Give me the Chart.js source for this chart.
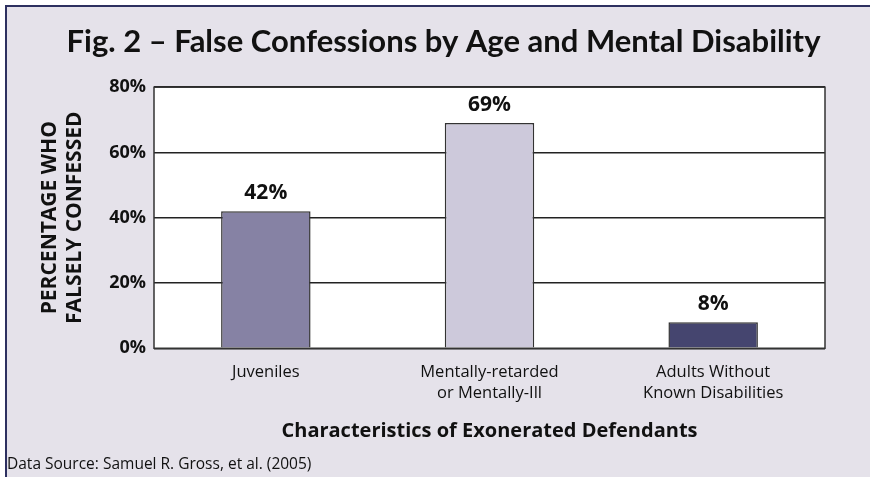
<!DOCTYPE html>
<html>
<head>
<meta charset="utf-8">
<script src="https://cdn.jsdelivr.net/npm/chart.js@4.4.1/dist/chart.umd.min.js"></script>
<style>
  html, body { margin: 0; padding: 0; background: #fff; overflow: hidden; }
  #frame {
    position: absolute; left: 5px; top: 5px;
    width: 880px; height: 470px;
    background: #e5e2ea;
    border-left: 2px solid #2d3060;
    border-top: 2px solid #2d3060;
  }
  #frame canvas { display: block; }
</style>
</head>
<body>
<div id="frame"><canvas id="chart" width="873" height="470"></canvas></div>
<script>
const categories = [['Juveniles'], ['Mentally-retarded', 'or Mentally-Ill'], ['Adults Without', 'Known Disabilities']];
const confessed = [42, 69, 8];
const barColors = ['#8682a4', '#cdc9db', '#45456f'];
const yTicks = [0, 20, 40, 60, 80];

const TITLE_FONT = 'Lato, sans-serif';
const FONT = '"Open Sans", Lato, sans-serif';

// white plot box with a dark frame
const plotBox = {
    id: 'plotBox',
    beforeDraw(chart) {
        const {ctx, chartArea: a} = chart;
        ctx.save();
        ctx.fillStyle = '#ffffff';
        ctx.fillRect(a.left, a.top, a.right - a.left, a.bottom - a.top);
        ctx.restore();
    },
    afterDraw(chart) {
        const {ctx, chartArea: a} = chart;
        ctx.save();
        ctx.strokeStyle = '#333333';
        ctx.lineWidth = 1.5;
        ctx.strokeRect(a.left, a.top, a.right - a.left, a.bottom - a.top);
        ctx.restore();
    }
};

// value labels above the bars
const valueLabels = {
    id: 'valueLabels',
    afterDatasetsDraw(chart) {
        const {ctx} = chart;
        const meta = chart.getDatasetMeta(0);
        ctx.save();
        ctx.font = 'bold 21px ' + FONT;
        ctx.fillStyle = '#111';
        ctx.textAlign = 'center';
        ctx.textBaseline = 'middle';
        meta.data.forEach((bar, i) => {
            ctx.fillText(confessed[i] + '%', bar.x, bar.y - 18);
        });
        ctx.restore();
    }
};

new Chart(document.getElementById('chart'), {
    type: 'bar',
    data: {
        labels: categories,
        datasets: [{
            data: confessed,
            backgroundColor: barColors,
            borderColor: '#333333',
            borderWidth: 1.5,
            barPercentage: 0.4,
            categoryPercentage: 1.0
        }]
    },
    options: {
        responsive: false,
        animation: false,
        layout: {padding: 0},
        plugins: {
            legend: {display: false},
            tooltip: {enabled: false},
            title: {
                display: true,
                text: 'Fig. 2 – False Confessions by Age and Mental Disability',
                color: '#111',
                font: {family: TITLE_FONT, size: 31, weight: 'bold', lineHeight: 1.2},
                padding: {top: 16, bottom: 27}
            },
            subtitle: {
                display: true,
                position: 'bottom',
                align: 'start',
                text: 'Data Source: Samuel R. Gross, et al. (2005)',
                color: '#111',
                font: {family: FONT, size: 15.5, weight: 'normal', lineHeight: 1.15},
                padding: {top: 7, bottom: 4}
            }
        },
        scales: {
            x: {
                grid: {display: false, drawTicks: false},
                border: {display: false},
                ticks: {
                    color: '#111',
                    padding: 14,
                    maxRotation: 0,
                    font: {family: FONT, size: 16.5, lineHeight: 1.27}
                },
                title: {
                    display: true,
                    text: 'Characteristics of Exonerated Defendants',
                    color: '#111',
                    font: {family: FONT, size: 20, weight: 'bold', lineHeight: 1.15},
                    padding: {top: 2, bottom: 5}
                }
            },
            y: {
                min: 0,
                max: 80,
                afterBuildTicks(scale) {
                    scale.ticks = yTicks.map(v => ({value: v}));
                },
                afterFit(scale) {
                    scale.width = 147;
                },
                grid: {color: '#222', lineWidth: 1.5, drawTicks: false},
                border: {display: false},
                ticks: {
                    color: '#111',
                    padding: 8,
                    font: {family: FONT, size: 18, weight: 'bold'},
                    callback: v => v + '%'
                },
                title: {
                    display: true,
                    text: ['PERCENTAGE WHO', 'FALSELY CONFESSED'],
                    color: '#111',
                    font: {family: FONT, size: 21, weight: 'bold', lineHeight: 1.17},
                    padding: {top: 31, bottom: 0}
                }
            },
            // empty right-hand strip so the plot box stops short of the frame edge
            yRight: {
                position: 'right',
                min: 0,
                max: 80,
                afterFit(scale) {
                    scale.width = 55;
                },
                grid: {display: false},
                border: {display: false},
                ticks: {display: false}
            }
        }
    },
    plugins: [plotBox, valueLabels]
});
</script>
</body>
</html>
